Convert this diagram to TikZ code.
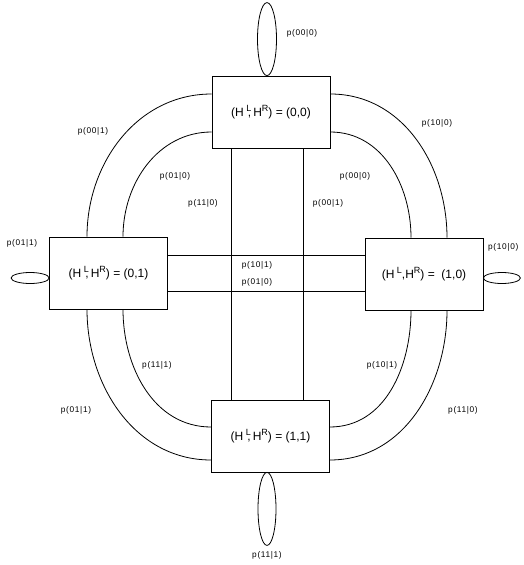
\documentclass[tikz,border=0pt]{standalone}
\usepackage{fontspec}
\setmainfont{Liberation Sans}
\newfontfamily\lblfont[LetterSpace=8]{Liberation Sans}
\usepackage{tikz}
\usetikzlibrary{positioning}

\newcommand\hpair[1]{(H\hspace{2.5pt}\raisebox{0.9ex}{\small L}\llap{,}\hspace{2pt}H\raisebox{0.9ex}{\small R}) = (#1)}

\begin{document}
\begin{tikzpicture}[
  x=1pt, y=1pt,
  state/.style={rectangle, draw, line width=0.8pt, inner sep=0pt,
                minimum width=118pt, minimum height=72pt,
                font=\fontsize{12}{14}\selectfont},
  link/.style={line width=0.8pt},
  lbl/.style={font=\lblfont\fontsize{8.3}{10}\selectfont, inner sep=0pt}
]
  \useasboundingbox (0,0) rectangle (524,-565);

  \node[state] (s00) at (271,-112)   {\hpair{0,0}};
  \node[state] (s01) at (108.5,-273) {\hpair{0,1}};
  \node[state] (s10) at (424,-274)
    {(H\hspace{2.5pt}\raisebox{0.9ex}{\small L},H\raisebox{0.9ex}{\small R}) =\ \ (1,0)};
  \node[state] (s11) at (270.5,-436) {\hpair{1,1}};

  % self loops
  \draw[link] ([xshift=-4pt,yshift=36.5pt]s00.north) ellipse[x radius=9.5pt, y radius=36.5pt];
  \draw[link] ([xshift=-3.5pt,yshift=-36.5pt]s11.south) ellipse[x radius=9pt, y radius=36.5pt];
  \draw[link] ([xshift=-19pt,yshift=-5pt]s01.west) ellipse[x radius=19pt, y radius=5.5pt];
  \draw[link] ([xshift=18.5pt,yshift=-4pt]s10.east) ellipse[x radius=18.5pt, y radius=5.5pt];

  % curved transitions
  \draw[link] ([yshift=18pt]s00.west)  to[out=180,in=90] ([xshift=-21.5pt]s01.north);
  \draw[link] ([yshift=-20pt]s00.west) to[out=180,in=90] ([xshift=14.5pt]s01.north);
  \draw[link] ([yshift=18pt]s00.east)  to[out=0,in=90]   ([xshift=23pt]s10.north);
  \draw[link] ([yshift=-20pt]s00.east) to[out=0,in=90]   ([xshift=-13pt]s10.north);
  \draw[link] ([xshift=-21.5pt]s01.south) to[out=-90,in=180] ([yshift=-24pt]s11.west);
  \draw[link] ([xshift=14.5pt]s01.south)  to[out=-90,in=180] ([yshift=9pt]s11.west);
  \draw[link] ([xshift=23pt]s10.south)    to[out=-90,in=0]   ([yshift=-24pt]s11.east);
  \draw[link] ([xshift=-13pt]s10.south)   to[out=-90,in=0]   ([yshift=9pt]s11.east);

  % straight transitions
  \draw[link] ([xshift=-40pt]s00.south) -- ([xshift=-40pt]s00.south |- s11.north);
  \draw[link] ([xshift=32pt]s00.south)  -- ([xshift=32pt]s00.south |- s11.north);
  \draw[link] ([yshift=18pt]s01.east)   -- ([yshift=18pt]s01.east -| s10.west);
  \draw[link] ([yshift=-18pt]s01.east)  -- ([yshift=-18pt]s01.east -| s10.west);

  % probabilities
  \node[lbl] (l1)  at (302,-33)  {p(00|0)};
  \node[lbl] (l2)  at (22,-243)  {p(01|1)};
  \node[lbl, anchor=west] (l3) at (488,-247) {p(10|0)};
  \node[lbl] (l4)  at (267,-555) {p(11|1)};
  \node[lbl] (l5)  at (93,-131)  {p(00|1)};
  \node[lbl] (l6)  at (175,-176) {p(01|0)};
  \node[lbl] (l7)  at (203,-203) {p(11|0)};
  \node[lbl] (l8)  at (437,-123) {p(10|0)};
  \node[lbl] (l9)  at (355,-176) {p(00|0)};
  \node[lbl] (l10) at (328,-203) {p(00|1)};
  \node[lbl] (l11) at (157,-365) {p(11|1)};
  \node[lbl] (l12) at (76,-410)  {p(01|1)};
  \node[lbl] (l13) at (382,-365) {p(10|1)};
  \node[lbl] (l14) at (463,-410) {p(11|0)};
  \node[lbl] (l15) at (257,-265) {p(10|1)};
  \node[lbl] (l16) at (257,-282) {p(01|0)};
\end{tikzpicture}
\end{document}
